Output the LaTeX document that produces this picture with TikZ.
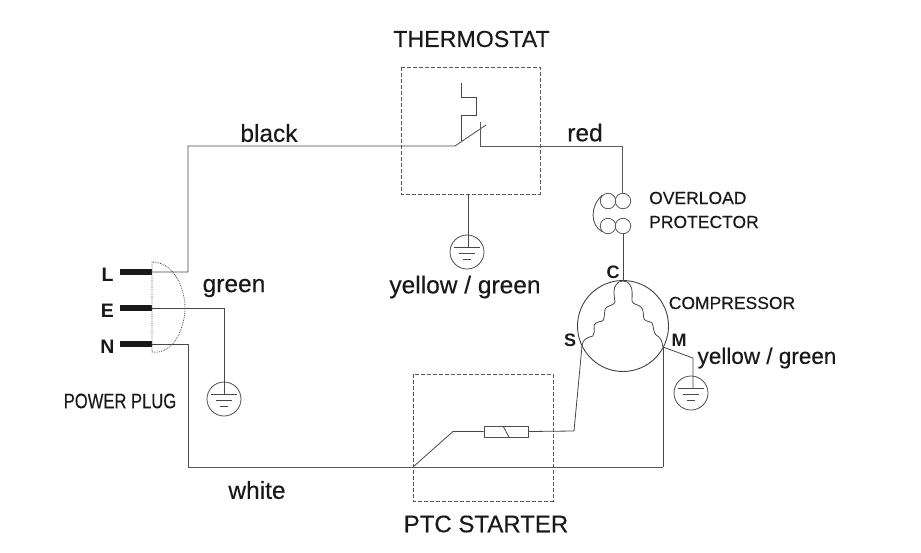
\documentclass[tikz,border=0pt]{standalone}
\usepackage{fontspec}
\setmainfont{Liberation Sans}
\newfontfamily\heavyfont[FakeBold=0.3]{Liberation Sans}
\tikzset{
  wire/.style={draw=black!72,line width=0.8pt},
  mainwire/.style={draw=black!65,line width=1pt},
  box/.style={draw=black!65,line width=0.8pt,dash pattern=on 4pt off 2pt},
  pinbar/.style={line width=6pt,black!90},
  earth/.style={circle,draw=black!70,line width=0.8pt,minimum size=34pt,inner sep=0pt},
  coil/.style={circle,draw=black!65,line width=0.8pt,minimum size=15.5pt,inner sep=0pt},
  lbl/.style={text=black!90,inner sep=0pt},
  biglbl/.style={lbl,font=\heavyfont\fontsize{24.5}{26}\selectfont},
  midlbl/.style={lbl,font=\heavyfont\fontsize{22.5}{24}\selectfont},
  smalllbl/.style={lbl,font=\heavyfont\fontsize{17.5}{19}\selectfont},
  pinlbl/.style={lbl,font=\fontsize{18}{20}\selectfont\bfseries}
}
\begin{document}
\begin{tikzpicture}[x=1pt,y=-1pt]
\useasboundingbox (0,0) rectangle (921,552);

% plug
\foreach \pin/\y in {L/272,E/308,N/344} {
    \coordinate (\pin) at (152,\y);
    \draw[pinbar] (120,\y) -- (\pin);
    \node[pinlbl,font=\fontsize{19.5}{21}\selectfont\bfseries] (lab\pin) at (107.5,\y+2.5) {\pin};
}
\draw[black!70,line width=0.8pt,densely dotted] (152,262) -- (152,352)
    .. controls (175,355) and (185,325) .. (185,308)
    .. controls (185,290) and (175,262) .. (152,262);

% earth symbols
\foreach \gnd/\x/\y in {gndE/224/399,gndT/467/252,gndM/691/393} {
    \node[earth] (\gnd) at (\x,\y) {};
    \draw[wire] (\x-13,\y-5) -- (\x+13,\y-5)
                (\x-8,\y+1) -- (\x+8,\y+1)
                (\x-4,\y+7) -- (\x+4,\y+7);
}

% boxes
\draw[box] (401,67) rectangle (540,194);
\draw[box] (413,374) rectangle (553,501);

% thermostat switch
\coordinate (swL) at (455,146);
\coordinate (swR) at (480,146);
\draw[wire] (L) -- (188,272) -- (188,146) -- (swL) -- (486,125);
\draw[wire] (461,83) -- (461,97) -- (476,97) -- (476,115) -- (461,115) -- (461,141);
\draw[mainwire] (480,122) -- (swR) -- (622,146) -- (622,193);
\draw[wire] (468,194) -- (468,247);
\draw[wire] (E) -- (224,308) -- (224,394);

% overload protector
\foreach \c/\x/\y in {olA/623/201,olB/608/201,olC/623/226,olD/608/226} {
    \node[coil] (\c) at (\x,\y) {};
}
\draw[wire] (olB.north west) .. controls (590,206) and (590,225) .. (olD.south west);

% compressor
\node[circle,draw=black!75,line width=0.9pt,minimum size=91pt,inner sep=0pt] (comp) at (623,326) {};
\coordinate (termC) at (623,281);
\coordinate (termS) at (582,346);
\coordinate (termM) at (663,347);
\draw[wire] (olC) -- (termC);
\draw[wire] (termS) .. controls (583,339) and (586,338) .. (593,336)
    .. controls (596,330) and (592,325) .. (596,323) .. controls (601,320) and (603,323) .. (604,318)
    .. controls (605,312) and (604,309) .. (607,307) .. controls (610,305) and (614,305) .. (615,302)
    .. controls (614,296) and (613,288) .. (616,285) .. controls (618,282) and (620,281) .. (termC)
    .. controls (626,281) and (628,282) .. (630,285) .. controls (633,288) and (632,296) .. (632,301)
    .. controls (633,305) and (638,304) .. (641,307) .. controls (644,309) and (643,316) .. (644,319)
    .. controls (646,322) and (650,321) .. (652,323) .. controls (654,327) and (653,332) .. (656,335)
    .. controls (660,337) and (662,340) .. (termM);

% ptc starter
\node[rectangle,draw=black!70,line width=0.8pt,minimum width=44pt,minimum height=11pt,inner sep=0pt] (ptc) at (506,431.5) {};
\draw[wire] (503,426) -- (509,437);
\draw[wire] (termS) -- (574,431) -- (ptc.east);
\draw[wire] (ptc.west) -- (453,431.5) -- (413,467);
\draw[wire] (N) -- (188,344) -- (188,467);
\draw[mainwire] (188,467) -- (663,467);
\draw[wire] (663,467) -- (termM);
\draw[wire] (termM) -- (693,358) -- (693,388);

% labels
\node[midlbl,font=\heavyfont\fontsize{23.2}{25}\selectfont] (capT) at (471.5,39) {THERMOSTAT};
\node[midlbl,font=\heavyfont\fontsize{24}{26}\selectfont] (capP) at (486,524) {PTC STARTER};
\node[biglbl] (lblBlack) at (269,133) {black};
\node[biglbl] (lblRed) at (585,132.5) {red};
\node[biglbl] (lblGreen) at (234,288) {green};
\node[biglbl] (lblWhite) at (257,490) {white};
\node[biglbl] (lblYgT) at (465,287) {yellow / green};
\node[midlbl] (lblYgM) at (767,358) {yellow / green};
\node[smalllbl,anchor=west] (lblOl) at (649,198) {OVERLOAD};
\node[smalllbl,anchor=west] (lblPr) at (649,222) {PROTECTOR};
\node[smalllbl] (lblComp) at (732,303) {COMPRESSOR};
\node[lbl,font=\heavyfont\fontsize{21}{23}\selectfont,transform shape,xscale=.79] (lblPlug) at (120,401) {POWER PLUG};
\node[pinlbl] (lblC) at (613,272) {C};
\node[pinlbl] (lblS) at (570,340) {S};
\node[pinlbl] (lblM) at (679,340) {M};
\end{tikzpicture}
\end{document}
